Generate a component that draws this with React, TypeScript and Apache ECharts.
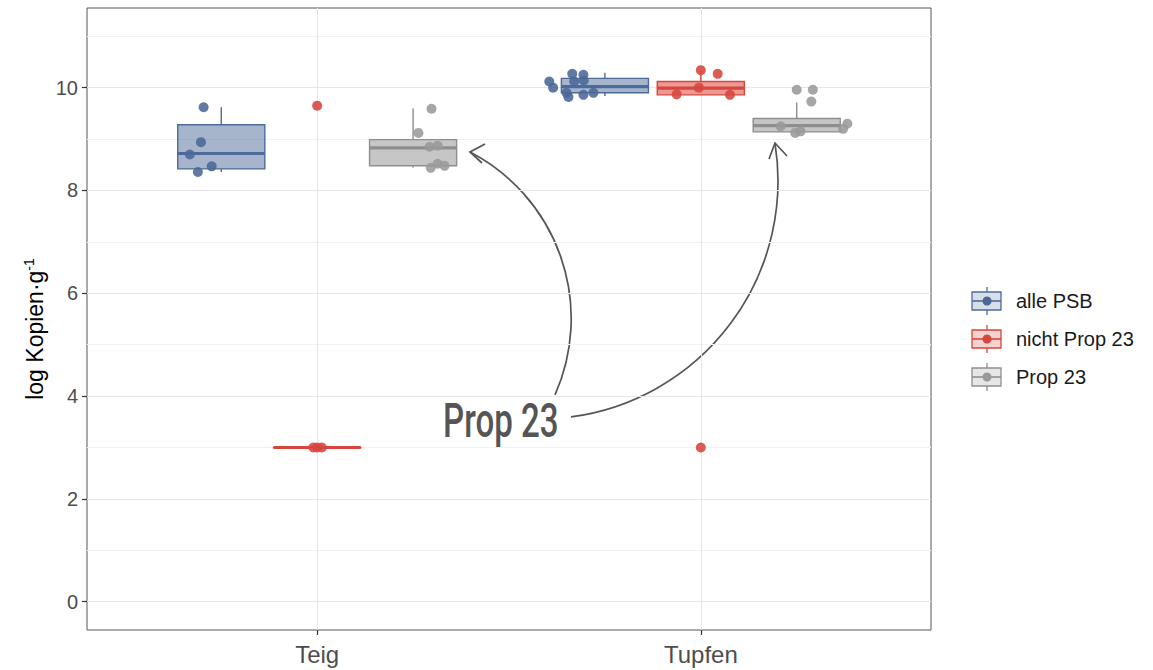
import React, { useEffect, useRef } from "react";
import * as echarts from "echarts";

// ---------- data ----------
const categories = ["Teig", "Tupfen"];
const groupNames = ["alle PSB", "nicht Prop 23", "Prop 23"];
const groupOffsets = [-0.25, 0, 0.25];

// box statistics per category: [min, q1, median, q3, max]
const alleBox = [
  [8.36, 8.42, 8.72, 9.28, 9.62],
  [9.84, 9.9, 10.02, 10.18, 10.29],
];
const nichtBox = [
  [3, 3, 3, 3, 3],
  [9.86, 9.86, 9.99, 10.12, 10.34],
];
const propBox = [
  [8.44, 8.48, 8.83, 8.99, 9.6],
  [9.09, 9.14, 9.26, 9.4, 9.71],
];

// points: [categoryIndex, jitter, value]
const allePoints = [
  [0, -0.046, 9.62], [0, -0.053, 8.94], [0, -0.082, 8.7], [0, -0.061, 8.36], [0, -0.025, 8.47],
  [1, -0.145, 10.12], [1, -0.135, 10.0], [1, -0.085, 10.27], [1, -0.056, 10.25], [1, -0.1, 9.9],
  [1, -0.095, 9.82], [1, -0.056, 9.86], [1, -0.03, 9.9], [1, -0.08, 10.12], [1, -0.055, 10.14],
];
const nichtPoints = [
  [0, 0, 9.65], [0, -0.01, 3], [0, 0.0, 3], [0, 0.012, 3],
  [1, 0, 10.34], [1, 0.044, 10.27], [1, -0.063, 9.87], [1, 0.076, 9.86], [1, -0.005, 10.0], [1, 0, 3],
];
const propPoints = [
  [0, 0.048, 9.59], [0, 0.014, 9.12], [0, 0.043, 8.85], [0, 0.064, 8.87], [0, 0.046, 8.44],
  [0, 0.064, 8.52], [0, 0.082, 8.48],
  [1, 0, 9.96], [1, 0.042, 9.96], [1, 0.038, 9.73], [1, 0.132, 9.3], [1, 0.121, 9.2],
  [1, -0.004, 9.12], [1, -0.042, 9.25], [1, 0.01, 9.15],
];

const yMajor = [0, 2, 4, 6, 8, 10];
const yMinor = [1, 3, 5, 7, 9, 11];
const xTicks = [1, 2];

// ---------- styles ----------
const boxStats = [alleBox, nichtBox, propBox];
const pointSets = [allePoints, nichtPoints, propPoints];
const strokeColors = ["#4d6b9a", "#d8453d", "#8e8e8e"];
const fillColors = ["rgba(77,107,154,0.5)", "rgba(216,69,61,0.55)", "rgba(142,142,142,0.5)"];
const pointColors = ["#4a6897", "#d6463e", "#9a9a9a"];
const BOX_WIDTH = 0.227;
const FONT = "'Liberation Sans', Arial, Helvetica, sans-serif";

export default function App() {
  const ref = useRef<HTMLDivElement>(null);

  useEffect(() => {
    document.body.style.margin = "0";
    if (!ref.current) return;
    const chart = echarts.init(ref.current, undefined, { renderer: "svg" });

    const renderBox = (g: number) => (params: any, api: any) => {
      const x = api.value(0);
      const lo = api.coord([x, api.value(1)]);
      const q1 = api.coord([x, api.value(2)]);
      const med = api.coord([x, api.value(3)]);
      const q3 = api.coord([x, api.value(4)]);
      const hi = api.coord([x, api.value(5)]);
      const hw = api.size([BOX_WIDTH, 0])[0] / 2;
      const cx = med[0];
      const stroke = strokeColors[g];
      return {
        type: "group",
        children: [
          { type: "line", shape: { x1: cx, y1: q3[1], x2: cx, y2: hi[1] }, style: { stroke, lineWidth: 1.4 } },
          { type: "line", shape: { x1: cx, y1: q1[1], x2: cx, y2: lo[1] }, style: { stroke, lineWidth: 1.4 } },
          {
            type: "rect",
            shape: { x: cx - hw, y: q3[1], width: 2 * hw, height: Math.max(q1[1] - q3[1], 0.01) },
            style: { fill: fillColors[g], stroke, lineWidth: 1.4 },
          },
          {
            type: "line",
            shape: { x1: cx - hw, y1: med[1], x2: cx + hw, y2: med[1] },
            style: { stroke, lineWidth: 3.2, lineCap: "butt" },
          },
        ],
      };
    };

    const boxSeries = groupNames.map((name, g) => ({
      type: "custom",
      name,
      z: 2,
      renderItem: renderBox(g),
      encode: { x: 0, y: [1, 2, 3, 4, 5] },
      data: boxStats[g].map((s, ci) => [ci + 1 + groupOffsets[g], ...s]),
    }));

    const pointSeries = groupNames.map((name, g) => ({
      type: "scatter",
      name: name + " Punkte",
      z: 3,
      symbolSize: 10,
      itemStyle: { color: pointColors[g], opacity: 0.88 },
      data: pointSets[g].map(([ci, j, v]) => [ci + 1 + groupOffsets[g] + j, v]),
    }));

    const gridSeries = {
      type: "scatter",
      name: "grid",
      z: 0,
      data: [],
      markLine: {
        silent: true,
        z: 0,
        symbol: ["none", "none"],
        label: { show: false },
        data: [
          ...yMinor.map((v) => ({ yAxis: v, lineStyle: { color: "#f2f2f2", width: 1, type: "solid" } })),
          ...yMajor.map((v) => ({ yAxis: v, lineStyle: { color: "#e6e6e6", width: 1, type: "solid" } })),
          ...xTicks.map((v) => ({ xAxis: v, lineStyle: { color: "#e6e6e6", width: 1, type: "solid" } })),
        ],
      },
    };

    const legendY = [301, 339, 377];
    const legendGraphics: any[] = [];
    groupNames.forEach((name, g) => {
      const y = legendY[g];
      legendGraphics.push(
        { type: "line", shape: { x1: 987, y1: y - 14, x2: 987, y2: y + 14 }, style: { stroke: strokeColors[g], lineWidth: 1.3 } },
        { type: "rect", shape: { x: 972, y: y - 9, width: 29, height: 18 }, style: { fill: "#fff", stroke: strokeColors[g], lineWidth: 1.3 } },
        { type: "rect", shape: { x: 972, y: y - 9, width: 29, height: 18 }, style: { fill: fillColors[g], opacity: 0.45 } },
        { type: "line", shape: { x1: 972, y1: y, x2: 1001, y2: y }, style: { stroke: strokeColors[g], lineWidth: 1.6 } },
        { type: "circle", shape: { cx: 987, cy: y, r: 4.5 }, style: { fill: pointColors[g] } },
        {
          type: "text",
          x: 1016,
          y,
          style: { text: name, fontSize: 20, fontFamily: FONT, fill: "#1a1a1a", verticalAlign: "middle", align: "left" },
        }
      );
    });

    const yTitle = {
      type: "text",
      x: 35,
      y: 329,
      rotation: Math.PI / 2,
      style: {
        text: "{main|log Kopien·g}{sup|-1}",
        align: "center",
        verticalAlign: "middle",
        rich: {
          main: { fontSize: 23, fontFamily: FONT, fill: "#000000", lineHeight: 26, verticalAlign: "middle" },
          sup: { fontSize: 14, fontFamily: FONT, fill: "#000000", lineHeight: 14, verticalAlign: "top" },
        },
      },
    };

    const arrowStyle = { stroke: "#555555", lineWidth: 1.7, fill: "none" };
    const annotation: any[] = [
      {
        type: "text",
        x: 443,
        y: 421,
        scaleX: 0.69,
        style: {
          text: "Prop 23",
          x: 0,
          y: 0,
          fontSize: 48,
          fontFamily: "Roboto, 'Noto Sans', sans-serif",
          fontWeight: 500,
          fill: "#555555",
          verticalAlign: "middle",
          align: "left",
        },
      },
      {
        type: "arc",
        shape: { cx: 383.5, cy: 318.6, r: 187.7, startAngle: -1.0918, endAngle: 0.4186, clockwise: true },
        style: arrowStyle,
      },
      { type: "polyline", shape: { points: [[485, 144], [470, 152], [482, 163]] }, style: arrowStyle },
      {
        type: "arc",
        shape: { cx: 539.9, cy: 180.9, r: 238.1, startAngle: -0.1597, endAngle: 1.4399, clockwise: true },
        style: arrowStyle,
      },
      { type: "polyline", shape: { points: [[769, 159], [775, 143], [787, 156]] }, style: arrowStyle },
    ];

    chart.setOption({
      animation: false,
      grid: {
        left: 87,
        right: 222,
        top: 8,
        bottom: 40,
        show: true,
        borderColor: "#555555",
        borderWidth: 1,
        backgroundColor: "#ffffff",
      },
      xAxis: {
        type: "value",
        min: 0.4,
        max: 2.6,
        position: "bottom",
        axisLine: { show: false, onZero: false },
        splitLine: { show: false },
        axisTick: { show: true, customValues: xTicks, length: 5, lineStyle: { color: "#333333", width: 1.2 } },
        axisLabel: {
          customValues: xTicks,
          formatter: (v: number) => categories[Math.round(v) - 1] ?? "",
          fontSize: 24,
          color: "#4d4d4d",
          fontFamily: FONT,
          margin: 12,
        },
      },
      yAxis: {
        type: "value",
        min: -0.55,
        max: 11.55,
        position: "left",
        axisLine: { show: false, onZero: false },
        splitLine: { show: false },
        axisTick: { show: true, customValues: yMajor, length: 5, lineStyle: { color: "#333333", width: 1.2 } },
        axisLabel: { customValues: yMajor, fontSize: 20, color: "#4d4d4d", fontFamily: FONT, margin: 9 },
      },
      series: [gridSeries, ...boxSeries, ...pointSeries],
      graphic: [yTitle, ...legendGraphics, ...annotation],
    });

    return () => chart.dispose();
  }, []);

  return <div ref={ref} style={{ width: 1153, height: 670 }} />;
}
